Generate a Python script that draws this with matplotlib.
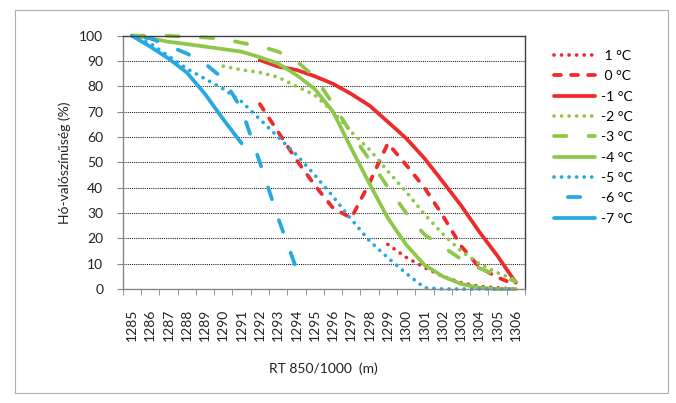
import numpy as np
import matplotlib.pyplot as plt
from matplotlib.patches import Rectangle

plt.rcParams['font.family'] = ['Lato', 'DejaVu Sans']

# RT 850/1000 heights (categories on the x axis)
heights = list(range(1285, 1307))
n = None

# snow probability (%) per temperature, None = no value
t_p1 = [n] * 14 + [17.6, 12.5, 8.5, 5, 2.5, 1, 0.5, 0]
t_0 = [n] * 7 + [73, 62, 51, 41, 32, 28, 42, 57.5, 49, 40, 29, 17, 8.6, 4.6, 1.6]
t_m1 = [n] * 7 + [90.4, 87.8, 86.5, 84, 81, 77, 72.4, 66, 59.5, 51.6, 42.4, 33, 22.6, 13, 2.5]
t_m2 = [n] * 5 + [88, 86.5, 85.5, 83.6, 80, 76.6, 70, 62, 55, 46.5, 38.4, 29.5, 21.8, 15, 10, 6.4, 3.6]
t_m3 = [100, 100, 100, 99.5, 99.3, 98.7, 97.2, 95.9, 93.7, 90, 83.8, 73, 61.5, 51, 40.2, 30, 21.5, 16.7, 11.8, 8.3, 5.3, 3]
t_m4 = [100, 99, 97.6, 96.7, 95.7, 94.7, 93.7, 91.5, 89, 84.5, 79, 70, 55.5, 41.5, 28, 17.5, 9.5, 5, 2, 0.5, 0, 0]
t_m5 = [100, 97, 92, 87, 83, 79, 74, 67, 60, 53, 45, 36.5, 27.5, 19, 12.3, 6.2, 0.5, 0, 0, 0, 0, 0]
t_m6 = [100, 99, 96, 93, 89, 83, 71, 50, 28, 8] + [n] * 12
t_m7 = [100, 95.7, 91, 85.5, 77, 67, 57.5] + [n] * 15

labels = [' 1 °C', ' 0 °C', '-1 °C', '-2 °C', '-3 °C', '-4 °C', '-5 °C', '-6 °C', '-7 °C']
series = [t_p1, t_0, t_m1, t_m2, t_m3, t_m4, t_m5, t_m6, t_m7]

red = '#ee2a2a'
green = '#8dc84b'
blue = '#27a8e0'
dot = (0, (0.01, 2.0))
dash = (0, (1.85, 2.7))
longdash = (0, (3.3, 5.9))
longdash_b = (5.5, (3.3, 5.9))
colors = [red, red, red, green, green, green, blue, blue, blue]
styles = [dot, dash, '-', dot, longdash, '-', dot, longdash_b, '-']

fig = plt.figure(figsize=(6.76, 4.03), dpi=100)
ax = fig.add_axes([122.7 / 676, 1 - 289 / 403, 402.3 / 676, 253.3 / 403])

x = np.arange(len(heights))
handles = []
for vals, lab, c, ls in zip(series, labels, colors, styles):
    y = np.array([np.nan if v is None else v for v in vals], dtype=float)
    line, = ax.plot(x, y, color=c, lw=2.7, linestyle=ls, label=lab,
                    dash_capstyle='round', solid_capstyle='round', clip_on=False)
    handles.append(line)

ax.set_xlim(-0.5, len(heights) - 0.5)
ax.set_ylim(0, 100)
ax.set_yticks(range(0, 101, 10))
ax.set_xticks(x)
ax.set_xticklabels([str(h) for h in heights], rotation=90, va='top')
ax.set_xticks(np.arange(-0.5, len(heights), 1), minor=True)
ax.tick_params(axis='x', which='major', length=0, pad=14, labelsize=10, colors='#222222')
ax.tick_params(axis='x', which='minor', length=4, direction='out', color='#868686')
ax.tick_params(axis='y', length=4, direction='out', color='#868686', pad=10,
               labelsize=10, labelcolor='#222222')

for v in range(10, 100, 10):
    ax.axhline(v, color='black', lw=0.7, linestyle=(0, (1, 1.2)), zorder=0)

for s in ['left', 'bottom']:
    ax.spines[s].set_color('#868686')
for s in ['top', 'right']:
    ax.spines[s].set_color('#404040')
for s in ax.spines.values():
    s.set_linewidth(1)

ax.set_ylabel('Hó-valószínűség (%)', fontsize=10, color='#222222')
ax.yaxis.set_label_coords(-0.128, 0.5)
ax.set_xlabel('RT 850/1000  (m)', fontsize=10, color='#222222')
ax.xaxis.set_label_coords(0.5, -0.29)

fig.legend(handles=handles, loc='upper left', bbox_to_anchor=(554 / 676, 1 - 50 / 403),
           frameon=False, fontsize=10, handlelength=2.95, handletextpad=0.4,
           labelspacing=0.6, borderpad=0, borderaxespad=0)

fig.patches.append(Rectangle((15 / 676, 1 - 393 / 403), 653 / 676, 383 / 403,
                             transform=fig.transFigure, fill=False,
                             edgecolor='#b0b0b0', lw=0.8))

fig.savefig('out.png', dpi=100)
